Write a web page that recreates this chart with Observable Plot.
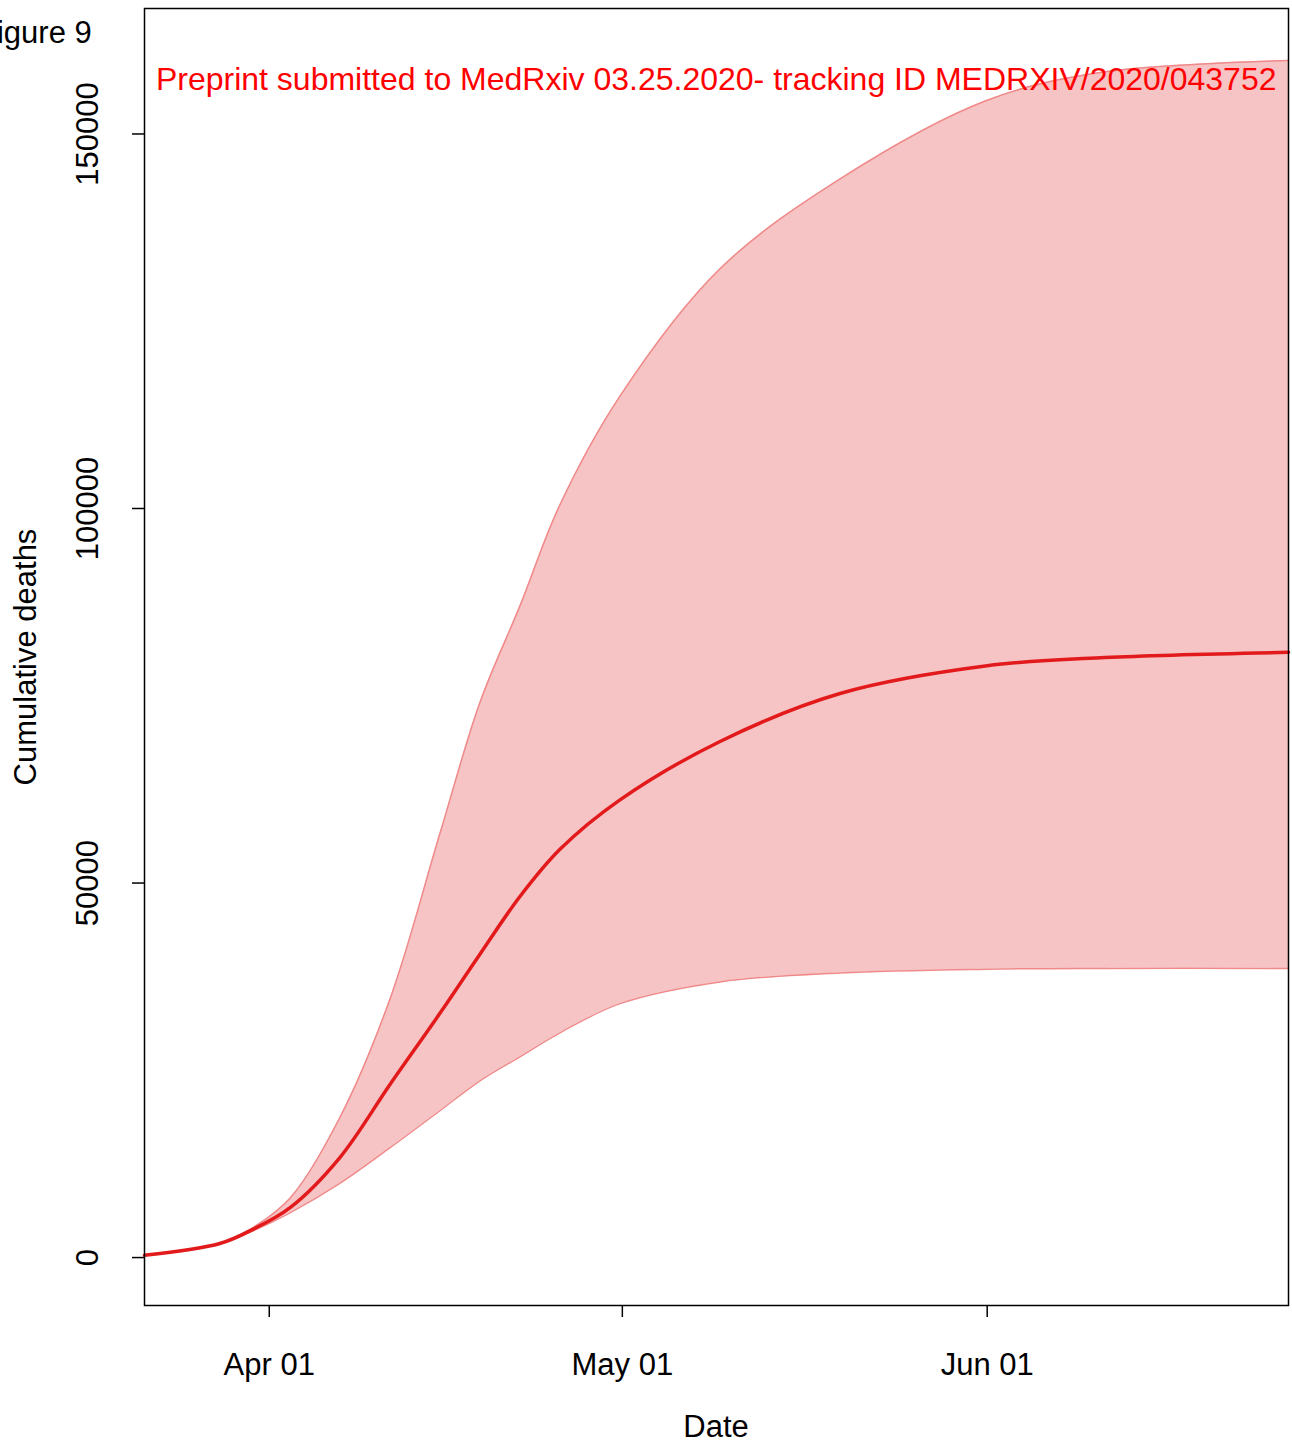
<!DOCTYPE html>
<html><head><meta charset="utf-8">
<script src="https://cdn.jsdelivr.net/npm/d3@7"></script>
<script src="https://cdn.jsdelivr.net/npm/@observablehq/plot@0.6"></script>
<style>body{margin:0;background:#fff;font-family:"Liberation Sans",Arial,sans-serif}</style>
</head><body><div id="c"></div>
<script>
const dayOffsets = [-10.6,-4.2,-1.6,1.8,6.0,10.3,14.5,17.9,21.3,24.7,29.8,38.3,48.5,61,71,86.6]; // days from 2020-04-01
const meanDeaths = [300,1870,3600,6700,13350,23200,32600,40500,48200,54500,61100,68900,75300,79000,80100,80800];
const upperDeaths = [300,1900,3800,8000,18700,34700,56600,74100,87000,100500,115000,132000,144000,154500,158300,159800];
const lowerDeaths = [300,1800,3400,6000,9900,14700,19600,23600,26800,30000,33900,36800,38000,38500,38600,38600];
const yTicks = [0,50000,100000,150000];
const xTickDates = ["2020-04-01","2020-05-01","2020-06-01"];
const xTickLabels = ["Apr 01","May 01","Jun 01"];

const base = new Date(2020,3,1);
const toDate = d => new Date(base.getTime() + d*86400000);
const data = dayOffsets.map((d,i)=>({date:toDate(d),mean:meanDeaths[i],lo:lowerDeaths[i],hi:upperDeaths[i]}));
const xd = xTickDates.map((s,i)=>({date:new Date(s+"T00:00"),label:xTickLabels[i]}));
const x0 = toDate(-10.6), x1 = toDate(86.6);
const yMin = -6400, yMax = 166750;

const chart = Plot.plot({
  width:1292, height:1444,
  marginLeft:144, marginRight:4, marginTop:8, marginBottom:139,
  style:{fontFamily:"Liberation Sans, Arial, sans-serif", fontSize:"32px", background:"#fff"},
  x:{type:"time", domain:[x0,x1]},
  y:{domain:[yMin,yMax]},
  marks:[
    Plot.areaY(data,{x:"date",y1:"lo",y2:"hi",fill:"#f6c4c5",curve:"catmull-rom"}),
    Plot.lineY(data,{x:"date",y:"hi",stroke:"#f08a8a",strokeWidth:1.5,curve:"catmull-rom"}),
    Plot.lineY(data,{x:"date",y:"lo",stroke:"#f08a8a",strokeWidth:1.5,curve:"catmull-rom"}),
    Plot.lineY(data,{x:"date",y:"mean",stroke:"#e31a1c",strokeWidth:3.5,curve:"catmull-rom"}),
    Plot.frame({stroke:"black",strokeWidth:1.5}),
    Plot.axisY({ticks:yTicks,tickSize:12,tickFormat:()=>"",label:null,strokeWidth:1.5}),
    Plot.axisX({ticks:xd.map(d=>d.date),tickSize:12,tickFormat:()=>"",label:null,strokeWidth:1.5}),
    Plot.text(yTicks,{x:()=>x0,y:d=>d,text:d=>String(d),rotate:-90,dx:-56,fontSize:31,fill:"black"}),
    Plot.text(xd,{x:"date",y:()=>yMin,text:"label",dy:60,fontSize:31,fill:"black"}),
    Plot.text(["Preprint submitted to MedRxiv 03.25.2020- tracking ID MEDRXIV/2020/043752"],{frameAnchor:"top-right",dx:-12,dy:59,fill:"#ff0000",fontSize:32,textAnchor:"end"})
  ]
});
const svg = d3.select(chart);
svg.attr("overflow","visible");
svg.append("text").attr("x",716).attr("y",1437).attr("text-anchor","middle").attr("font-size",31).text("Date");
svg.append("text").attr("transform","translate(36,657) rotate(-90)").attr("text-anchor","middle").attr("font-size",31).text("Cumulative deaths");
svg.append("text").attr("x",-22).attr("y",43).attr("text-anchor","start").attr("font-size",31).text("Figure 9");
document.getElementById("c").appendChild(chart);
</script></body></html>
